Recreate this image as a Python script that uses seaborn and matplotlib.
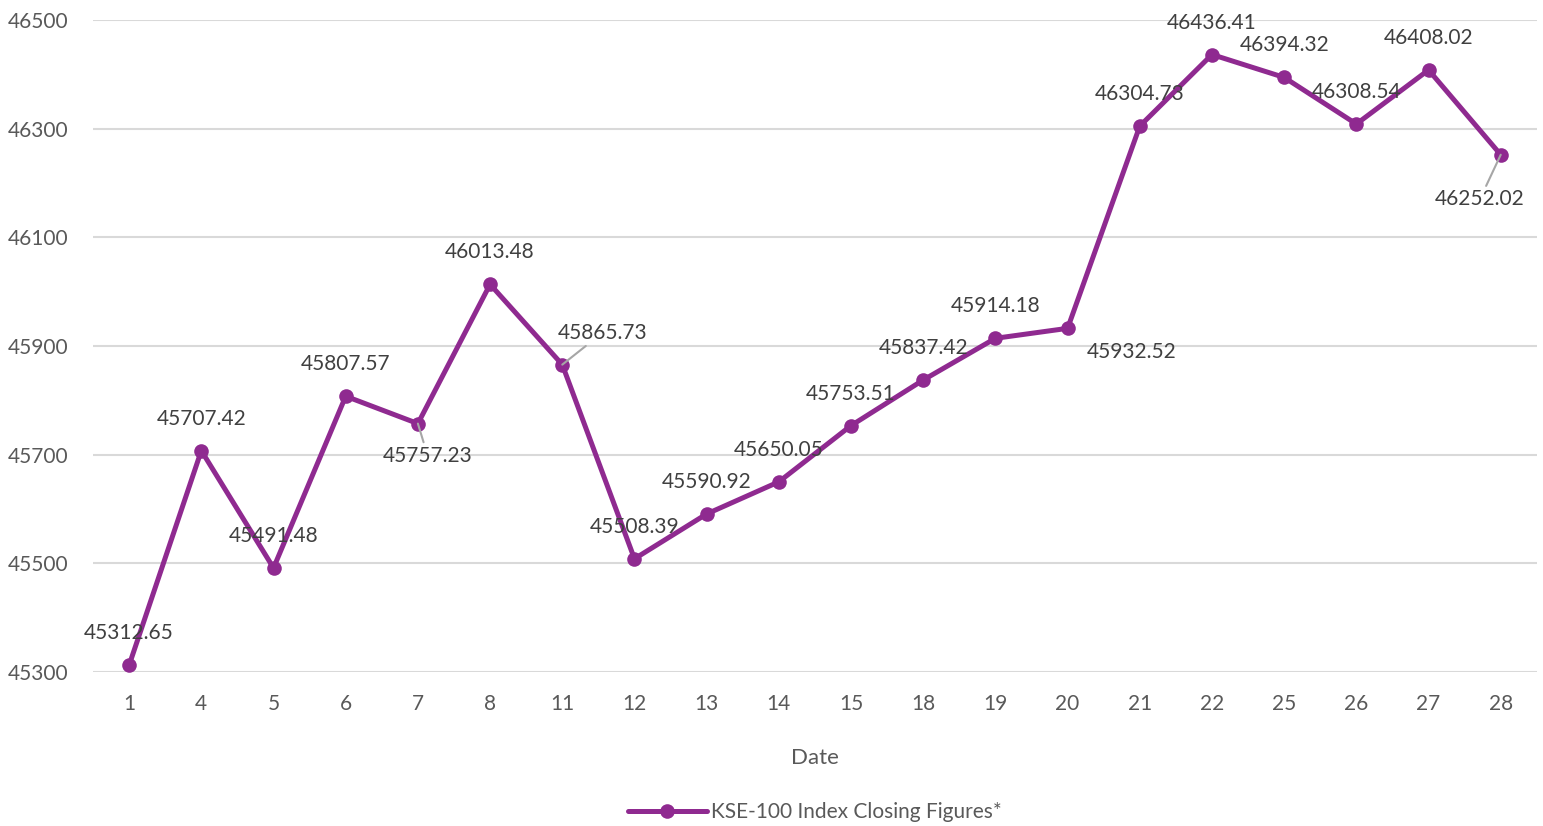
import matplotlib.pyplot as plt
import seaborn as sns
import pandas as pd

dates = ['1', '4', '5', '6', '7', '8', '11', '12', '13', '14',
         '15', '18', '19', '20', '21', '22', '25', '26', '27', '28']
closing = [45312.65, 45707.42, 45491.48, 45807.57, 45757.23, 46013.48,
           45865.73, 45508.39, 45590.92, 45650.05, 45753.51, 45837.42,
           45914.18, 45932.52, 46304.73, 46436.41, 46394.32, 46308.54,
           46408.02, 46252.02]
series_name = 'KSE-100 Index Closing Figures*'

# label offsets in points (dx, dy), leader flag
label_pos = {'7': (7, -23, True), '11': (29, 23, True),
             '20': (46, -17, False), '28': (-15, -32, True)}

df = pd.DataFrame({'Date': dates, 'Close': closing, 'series': series_name})

sns.set_style("white")
plt.rcParams['font.family'] = ['Lato', 'DejaVu Sans']
purple = '#8F2A90'

fig = plt.figure(figsize=(15.43, 8.26), dpi=100)
ax = fig.add_axes([0.0603, 0.1864, 0.9357, 0.7894])

sns.lineplot(data=df, x='Date', y='Close', hue='series', palette=[purple],
             sort=False, marker='o', markersize=10.5, markeredgewidth=0,
             linewidth=3.6, ax=ax, zorder=3)

ax.set_ylim(45300, 46500)
ax.set_yticks(range(45300, 46501, 200))
ax.set_xlim(-0.5, len(dates) - 0.5)
ax.yaxis.grid(True, color='#D9D9D9', linewidth=1.5)
ax.xaxis.grid(False)
for s in ax.spines.values():
    s.set_visible(False)
ax.tick_params(axis='both', length=0, labelsize=15, labelcolor='#595959')
ax.tick_params(axis='x', pad=16)
ax.tick_params(axis='y', pad=18)
ax.set_ylabel('')
ax.set_xlabel('Date', fontsize=16, color='#595959', labelpad=24)

for i, (d, v) in enumerate(zip(dates, closing)):
    dx, dy, lead = label_pos.get(d, (0, 23, False))
    kw = {}
    if lead:
        kw['arrowprops'] = dict(arrowstyle='-', color='#A6A6A6', lw=1.5,
                                shrinkA=0, shrinkB=0)
    ax.annotate(f'{v:.2f}', xy=(i, v), xytext=(dx, dy), textcoords='offset points',
                ha='center', va='center', fontsize=15, color='#404040', zorder=4, **kw)

leg = ax.legend(loc='center', bbox_to_anchor=(0.5, -0.215), frameon=False,
                fontsize=15, handlelength=3.8, handletextpad=0.2)
for t in leg.get_texts():
    t.set_color('#595959')

plt.savefig('out.png', dpi=100)
